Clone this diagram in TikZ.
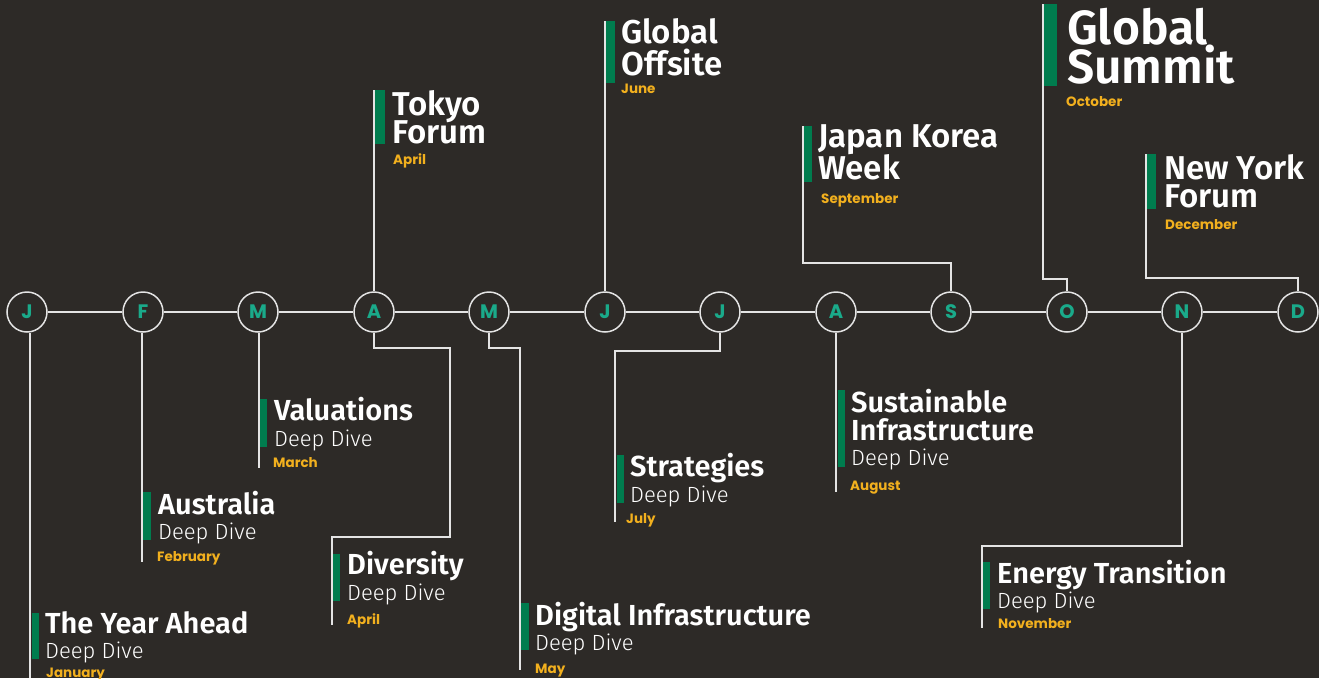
\documentclass[tikz,border=0pt]{standalone}
\usepackage{fontspec}
\newfontfamily\titlef{Fira Sans}[UprightFont=* SemiBold]
\newfontfamily\lightf{Fira Sans}[UprightFont=* Light]
\newfontfamily\monthf{Poppins}[UprightFont=* Bold]
\definecolor{bgc}{RGB}{45,42,39}
\definecolor{linec}{RGB}{228,228,228}
\definecolor{barc}{RGB}{0,124,78}
\definecolor{monc}{RGB}{242,176,30}
\definecolor{tealc}{RGB}{26,170,138}
\begin{document}
\begin{tikzpicture}[x=1pt,y=-1pt,
  conn/.style={draw=linec, line width=1.5pt},
  mcirc/.style={circle, draw=linec, line width=1.5pt, fill=bgc, minimum size=40pt, inner sep=0pt, text=tealc, font=\monthf\fontsize{19.5}{19.5}\selectfont},
  gbar/.style={fill=barc, inner sep=0pt, anchor=north west, minimum width=8pt},
  ttl/.style={anchor=base west, inner sep=0pt, text=white, font=\titlef\fontsize{29}{29}\selectfont},
  ttlbig/.style={ttl, font=\titlef\fontsize{33}{33}\selectfont},
  ttlhuge/.style={ttl, font=\titlef\fontsize{48}{48}\selectfont},
  dd/.style={anchor=base west, inner sep=0pt, text=white, font=\lightf\fontsize{22}{22}\selectfont},
  mon/.style={anchor=base west, inner sep=0pt, text=monc, font=\monthf\fontsize{13.5}{13.5}\selectfont}
]
\fill[bgc] (0,0) rectangle (1319,678);
\useasboundingbox (0,0) rectangle (1319,678);

% free ends of connectors
\coordinate (e1) at (30,678);
\coordinate (e2) at (142,562);
\coordinate (e3) at (259,468);
\coordinate (t4) at (374,90);
\coordinate (e4) at (332,625);
\coordinate (e5) at (520,670);
\coordinate (t6) at (605,21);
\coordinate (e7) at (615,522);
\coordinate (e8) at (836,492);
\coordinate (t9) at (803,126);
\coordinate (t10) at (1043,4);
\coordinate (e11) at (982,628);
\coordinate (t12) at (1146,154);

% circles
\node[mcirc] (c1) at (27,312) {J};
\node[mcirc] (c2) at (143,312) {F};
\node[mcirc] (c3) at (258,312) {M};
\node[mcirc] (c4) at (374,312) {A};
\node[mcirc] (c5) at (489,312) {M};
\node[mcirc] (c6) at (605,312) {J};
\node[mcirc] (c7) at (720,312) {J};
\node[mcirc] (c8) at (836,312) {A};
\node[mcirc] (c9) at (951,312) {S};
\node[mcirc] (c10) at (1067,312) {O};
\node[mcirc] (c11) at (1182,312) {N};
\node[mcirc] (c12) at (1298,312) {D};

% timeline
\foreach \i/\j in {1/2,2/3,3/4,4/5,5/6,6/7,7/8,8/9,9/10,10/11,11/12}
  \draw[conn] (c\i) -- (c\j);

% connectors
\draw[conn] (c1.south -| e1) -- (e1);
\draw[conn] (c2.south -| e2) -- (e2);
\draw[conn] (c3.south -| e3) -- (e3);
\draw[conn] (c4.north) -- (t4);
\draw[conn] (c4.south) |- (450,348) |- (332,537) -- (e4);
\draw[conn] (c5.south) |- (520,348) -- (e5);
\draw[conn] (c6.north) -- (t6);
\draw[conn] (c7.south) |- (615,351) -- (e7);
\draw[conn] (c8.south) -- (e8);
\draw[conn] (c9.north) |- (803,263) -- (t9);
\draw[conn] (c10.north) |- (1043,279) -- (t10);
\draw[conn] (c11.south) |- (982,546) -- (e11);
\draw[conn] (c12.north) |- (1146,278) -- (t12);

% bars
\node[gbar, minimum width=7pt, minimum height=46pt] (b1) at (32,613) {};
\node[gbar, minimum height=48pt] (b2) at (143,492) {};
\node[gbar, minimum width=7pt, minimum height=48pt] (b3) at (260,399) {};
\node[gbar, minimum width=10pt, minimum height=54pt] (b4) at (375,90) {};
\node[gbar, minimum width=7pt, minimum height=47pt] (b4b) at (333,554) {};
\node[gbar, minimum height=47pt] (b5) at (521,603) {};
\node[gbar, minimum width=9pt, minimum height=62pt] (b6) at (606,21) {};
\node[gbar, minimum width=7pt, minimum height=48pt] (b7) at (617,455) {};
\node[gbar, minimum width=7pt, minimum height=77pt] (b8) at (838,390) {};
\node[gbar, minimum height=56pt] (b9) at (804,126) {};
\node[gbar, minimum width=13pt, minimum height=82pt] (b10) at (1044,4) {};
\node[gbar, minimum width=7pt, minimum height=47pt] (b11) at (983,562) {};
\node[gbar, minimum width=9pt, minimum height=55pt] (b12) at (1147,154) {};

% January
\node[ttl] (n1) at (45,633) {The Year Ahead};
\node[dd] (d1) at (45,658) {Deep Dive};
\node[mon] (m1) at (46,677) {January};
% February
\node[ttl] (n2) at (158,514) {Australia};
\node[dd] (d2) at (158,539) {Deep Dive};
\node[mon] (m2) at (157,561) {February};
% March
\node[ttl] (n3) at (274,420) {Valuations};
\node[dd] (d3) at (274,446) {Deep Dive};
\node[mon] (m3) at (273,467) {March};
% April up
\node[ttlbig] (n4a) at (392,115) {Tokyo};
\node[ttlbig] (n4b) at (392,143) {Forum};
\node[mon] (m4) at (393,164) {April};
% April down
\node[ttl] (n4c) at (347,574) {Diversity};
\node[dd] (d4) at (347,600) {Deep Dive};
\node[mon] (m4b) at (347,624) {April};
% May
\node[ttl] (n5) at (535,625) {Digital Infrastructure};
\node[dd] (d5) at (535,650) {Deep Dive};
\node[mon] (m5) at (535,673) {May};
% June
\node[ttlbig] (n6a) at (621,43) {Global};
\node[ttlbig] (n6b) at (621,75) {Offsite};
\node[mon] (m6) at (621,93) {June};
% July
\node[ttl] (n7) at (630,476) {Strategies};
\node[dd] (d7) at (630,502) {Deep Dive};
\node[mon] (m7) at (626,523) {July};
% August
\node[ttl] (n8a) at (851,412) {Sustainable};
\node[ttl] (n8b) at (851,440) {Infrastructure};
\node[dd] (d8) at (851,465) {Deep Dive};
\node[mon] (m8) at (850,490) {August};
% September
\node[ttlbig] (n9a) at (818,147) {Japan Korea};
\node[ttlbig] (n9b) at (818,179) {Week};
\node[mon] (m9) at (821,203) {September};
% October
\node[ttlhuge] (n10a) at (1067,44) {Global};
\node[ttlhuge] (n10b) at (1067,83) {Summit};
\node[mon] (m10) at (1066,106) {October};
% November
\node[ttl] (n11) at (997,583) {Energy Transition};
\node[dd] (d11) at (997,608) {Deep Dive};
\node[mon] (m11) at (998,628) {November};
% December
\node[ttlbig] (n12a) at (1164,179) {New York};
\node[ttlbig] (n12b) at (1164,207) {Forum};
\node[mon] (m12) at (1165,229) {December};
\end{tikzpicture}
\end{document}
